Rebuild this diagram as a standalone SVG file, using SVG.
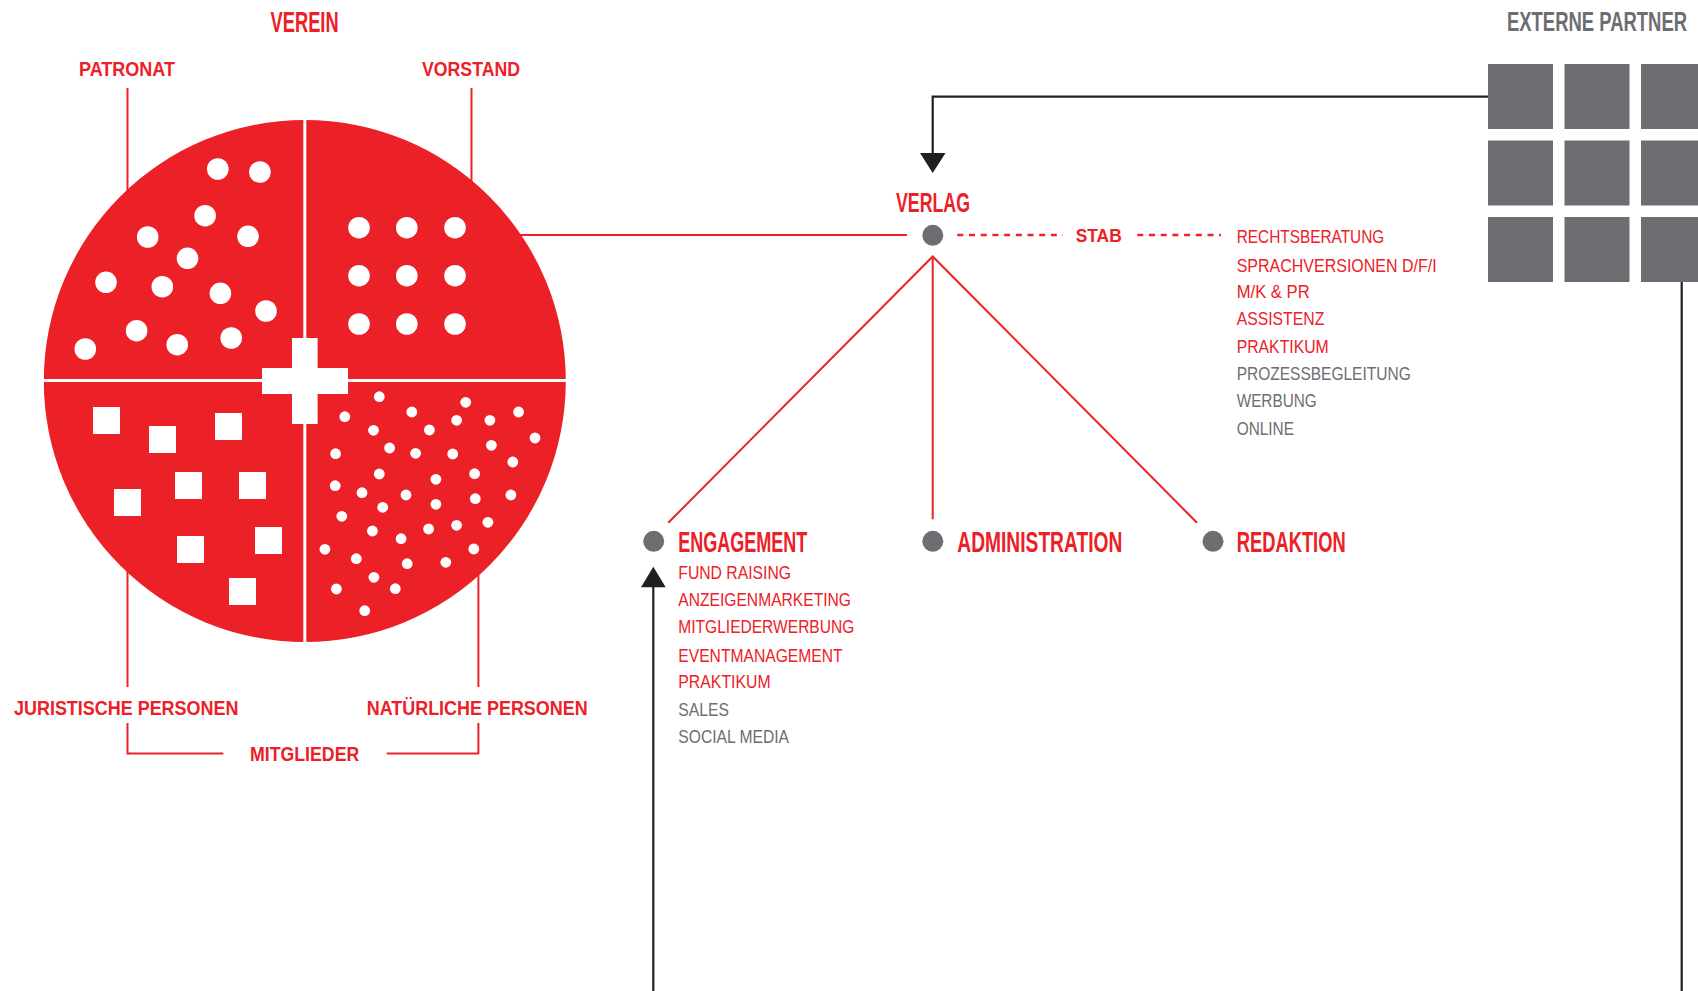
<svg xmlns="http://www.w3.org/2000/svg" width="1698" height="991" viewBox="0 0 1698 991">
<style>
.h{font-family:"Liberation Sans Narrow","Liberation Sans",Arial,sans-serif;font-weight:bold;fill:#ec2027}
.g{fill:#6d6e71}
.it{font-family:"Liberation Sans Narrow","Liberation Sans",Arial,sans-serif;font-size:18px;fill:#ec2027}
.it.gr{fill:#6d6e71}
.rl{stroke:#ec2027;stroke-width:2;fill:none}
.bl{stroke:#231f20;stroke-width:2.2;fill:none}
.dash{stroke:#ec2027;stroke-width:2.5;stroke-dasharray:6 5.7;fill:none}
.sq{fill:#6d6e71}
.dot{fill:#6d6e71}
.w{fill:#ffffff}
</style>
<rect width="1698" height="991" fill="#ffffff"/>

<g id="connectors">
  <line class="rl" x1="127.5" y1="88" x2="127.5" y2="200"/>
  <line class="rl" x1="471.5" y1="88" x2="471.5" y2="200"/>
  <line class="rl" x1="127.5" y1="560" x2="127.5" y2="687"/>
  <line class="rl" x1="478.4" y1="560" x2="478.4" y2="687"/>
  <polyline class="rl" points="127.5,723 127.5,753.5 223.3,753.5"/>
  <polyline class="rl" points="386.7,753.5 478.4,753.5 478.4,723"/>
  <line class="rl" x1="500" y1="235" x2="907" y2="235"/>
  <line class="dash" x1="957.3" y1="235" x2="1063" y2="235"/>
  <line class="dash" x1="1137.3" y1="235" x2="1221" y2="235"/>
  <polyline class="rl" points="668.3,522.7 932.7,256.5 1197,522.7"/>
  <line class="rl" x1="932.7" y1="256.5" x2="932.7" y2="519.3"/>
  <polyline class="bl" points="1488,96.7 932.7,96.7 932.7,156"/>
  <polygon fill="#231f20" points="920,153 945.5,153 932.7,173"/>
  <line class="bl" x1="653.3" y1="991" x2="653.3" y2="586"/>
  <polygon fill="#231f20" points="641,587.3 665.7,587.3 653.3,566.7"/>
  <line class="bl" x1="1681.7" y1="281" x2="1681.7" y2="991"/>
</g>

<g id="verein">
  <text class="h" x="270.6" y="31.7" font-size="29" textLength="68" lengthAdjust="spacingAndGlyphs">VEREIN</text>
  <text class="h" x="79" y="76" font-size="21" textLength="96" lengthAdjust="spacingAndGlyphs">PATRONAT</text>
  <text class="h" x="422" y="76" font-size="21" textLength="98" lengthAdjust="spacingAndGlyphs">VORSTAND</text>
  <text class="h" x="14" y="715" font-size="20" textLength="224.4" lengthAdjust="spacingAndGlyphs">JURISTISCHE PERSONEN</text>
  <text class="h" x="366.7" y="714.6" font-size="20" textLength="221" lengthAdjust="spacingAndGlyphs">NATÜRLICHE PERSONEN</text>
  <text class="h" x="250" y="761" font-size="20" textLength="109.3" lengthAdjust="spacingAndGlyphs">MITGLIEDER</text>
</g>

<g id="circle">
  <circle cx="304.8" cy="381" r="261" fill="#ec2027"/>
  <rect class="w" x="303.3" y="118" width="3" height="526"/>
  <rect class="w" x="42" y="379" width="526" height="3"/>
  <rect class="w" x="292" y="338" width="25.6" height="86"/>
  <rect class="w" x="262" y="368" width="86" height="26"/>
  <g id="patronat-dots" class="w">
    <circle cx="217.8" cy="169" r="10.8"/>
    <circle cx="259.9" cy="172" r="10.8"/>
    <circle cx="205.1" cy="215.7" r="10.8"/>
    <circle cx="147.7" cy="237" r="10.8"/>
    <circle cx="248" cy="236.3" r="10.8"/>
    <circle cx="187.5" cy="258.3" r="10.8"/>
    <circle cx="106" cy="282.3" r="10.8"/>
    <circle cx="162.3" cy="286.7" r="10.8"/>
    <circle cx="220.4" cy="293.3" r="10.8"/>
    <circle cx="266" cy="311" r="10.8"/>
    <circle cx="136.6" cy="330.7" r="10.8"/>
    <circle cx="177.2" cy="344.7" r="10.8"/>
    <circle cx="231.2" cy="338" r="10.8"/>
    <circle cx="85.3" cy="349" r="10.8"/>
  </g>
  <g id="vorstand-dots" class="w">
    <circle cx="359" cy="227.7" r="10.8"/>
    <circle cx="406.8" cy="227.7" r="10.8"/>
    <circle cx="455" cy="227.7" r="10.8"/>
    <circle cx="359" cy="275.7" r="10.8"/>
    <circle cx="406.8" cy="275.7" r="10.8"/>
    <circle cx="455" cy="275.7" r="10.8"/>
    <circle cx="359" cy="324" r="10.8"/>
    <circle cx="406.8" cy="324" r="10.8"/>
    <circle cx="455" cy="324" r="10.8"/>
  </g>
  <g id="juristische-squares" class="w">
    <rect x="93" y="407" width="27" height="27"/>
    <rect x="149" y="426" width="27" height="27"/>
    <rect x="215" y="413" width="27" height="27"/>
    <rect x="175" y="472" width="27" height="27"/>
    <rect x="239" y="472" width="27" height="27"/>
    <rect x="114" y="489" width="27" height="27"/>
    <rect x="255" y="527" width="27" height="27"/>
    <rect x="177" y="536" width="27" height="27"/>
    <rect x="229" y="578" width="27" height="27"/>
  </g>
  <g id="natuerliche-dots" class="w">
    <circle cx="379.3" cy="396.7" r="5.4"/>
    <circle cx="465.7" cy="402.3" r="5.4"/>
    <circle cx="344.8" cy="416.7" r="5.4"/>
    <circle cx="411.8" cy="412" r="5.4"/>
    <circle cx="456.6" cy="420.3" r="5.4"/>
    <circle cx="489.9" cy="420.3" r="5.4"/>
    <circle cx="518.6" cy="412" r="5.4"/>
    <circle cx="373.5" cy="430.3" r="5.4"/>
    <circle cx="429.4" cy="430" r="5.4"/>
    <circle cx="535" cy="438" r="5.4"/>
    <circle cx="389.6" cy="448" r="5.4"/>
    <circle cx="415.6" cy="453.3" r="5.4"/>
    <circle cx="452.7" cy="454" r="5.4"/>
    <circle cx="491.4" cy="445.3" r="5.4"/>
    <circle cx="335.6" cy="453.7" r="5.4"/>
    <circle cx="512.8" cy="462" r="5.4"/>
    <circle cx="379.3" cy="474" r="5.4"/>
    <circle cx="435.9" cy="479.3" r="5.4"/>
    <circle cx="474.6" cy="473.7" r="5.4"/>
    <circle cx="335.2" cy="485.7" r="5.4"/>
    <circle cx="362" cy="492.7" r="5.4"/>
    <circle cx="406" cy="495" r="5.4"/>
    <circle cx="382.7" cy="507.3" r="5.4"/>
    <circle cx="435.9" cy="504.3" r="5.4"/>
    <circle cx="475.3" cy="498.7" r="5.4"/>
    <circle cx="510.9" cy="495" r="5.4"/>
    <circle cx="341.8" cy="516.3" r="5.4"/>
    <circle cx="372.4" cy="531" r="5.4"/>
    <circle cx="401.1" cy="538.7" r="5.4"/>
    <circle cx="428.6" cy="529" r="5.4"/>
    <circle cx="456.6" cy="525.3" r="5.4"/>
    <circle cx="487.9" cy="522.3" r="5.4"/>
    <circle cx="324.9" cy="549.3" r="5.4"/>
    <circle cx="356.3" cy="558.7" r="5.4"/>
    <circle cx="407.2" cy="563.7" r="5.4"/>
    <circle cx="445.8" cy="562.3" r="5.4"/>
    <circle cx="473.8" cy="549" r="5.4"/>
    <circle cx="373.9" cy="577.3" r="5.4"/>
    <circle cx="395.3" cy="588.7" r="5.4"/>
    <circle cx="336.4" cy="589" r="5.4"/>
    <circle cx="364.7" cy="610.7" r="5.4"/>
  </g>
</g>

<g id="externe-partner">
  <text class="h g" x="1507" y="30.7" font-size="27" textLength="180" lengthAdjust="spacingAndGlyphs">EXTERNE PARTNER</text>
  <rect class="sq" x="1488" y="64" width="65" height="65"/>
  <rect class="sq" x="1564.5" y="64" width="65" height="65"/>
  <rect class="sq" x="1641" y="64" width="65" height="65"/>
  <rect class="sq" x="1488" y="140.5" width="65" height="65"/>
  <rect class="sq" x="1564.5" y="140.5" width="65" height="65"/>
  <rect class="sq" x="1641" y="140.5" width="65" height="65"/>
  <rect class="sq" x="1488" y="217" width="65" height="65"/>
  <rect class="sq" x="1564.5" y="217" width="65" height="65"/>
  <rect class="sq" x="1641" y="217" width="65" height="65"/>
</g>

<g id="verlag">
  <text class="h" x="896" y="211.7" font-size="27" textLength="74" lengthAdjust="spacingAndGlyphs">VERLAG</text>
  <circle class="dot" cx="932.8" cy="235.3" r="10.5"/>
</g>

<g id="stab">
  <text class="h" x="1075.7" y="241.7" font-size="18" textLength="46" lengthAdjust="spacingAndGlyphs">STAB</text>
  <text class="it" x="1236.7" y="243.3" textLength="147.6" lengthAdjust="spacingAndGlyphs">RECHTSBERATUNG</text>
  <text class="it" x="1236.7" y="271.7" textLength="200" lengthAdjust="spacingAndGlyphs">SPRACHVERSIONEN D/F/I</text>
  <text class="it" x="1236.7" y="298.3" textLength="73" lengthAdjust="spacingAndGlyphs">M/K &amp; PR</text>
  <text class="it" x="1236.7" y="325" textLength="87.6" lengthAdjust="spacingAndGlyphs">ASSISTENZ</text>
  <text class="it" x="1236.7" y="353.3" textLength="92" lengthAdjust="spacingAndGlyphs">PRAKTIKUM</text>
  <text class="it gr" x="1236.7" y="380" textLength="174" lengthAdjust="spacingAndGlyphs">PROZESSBEGLEITUNG</text>
  <text class="it gr" x="1236.7" y="407.3" textLength="80" lengthAdjust="spacingAndGlyphs">WERBUNG</text>
  <text class="it gr" x="1236.7" y="435" textLength="57.3" lengthAdjust="spacingAndGlyphs">ONLINE</text>
</g>

<g id="engagement">
  <circle class="dot" cx="653.7" cy="541.3" r="10.5"/>
  <text class="h" x="678.3" y="551.7" font-size="29" textLength="129" lengthAdjust="spacingAndGlyphs">ENGAGEMENT</text>
  <text class="it" x="678.3" y="579.3" textLength="112.7" lengthAdjust="spacingAndGlyphs">FUND RAISING</text>
  <text class="it" x="678.3" y="606" textLength="172.7" lengthAdjust="spacingAndGlyphs">ANZEIGENMARKETING</text>
  <text class="it" x="678.3" y="633.3" textLength="176" lengthAdjust="spacingAndGlyphs">MITGLIEDERWERBUNG</text>
  <text class="it" x="678.3" y="661.7" textLength="164.3" lengthAdjust="spacingAndGlyphs">EVENTMANAGEMENT</text>
  <text class="it" x="678.3" y="688.3" textLength="92.3" lengthAdjust="spacingAndGlyphs">PRAKTIKUM</text>
  <text class="it gr" x="678.3" y="715.7" textLength="50.7" lengthAdjust="spacingAndGlyphs">SALES</text>
  <text class="it gr" x="678.3" y="743.3" textLength="110.7" lengthAdjust="spacingAndGlyphs">SOCIAL MEDIA</text>
</g>

<g id="administration">
  <circle class="dot" cx="932.8" cy="541.3" r="10.5"/>
  <text class="h" x="957.3" y="551.7" font-size="29" textLength="165" lengthAdjust="spacingAndGlyphs">ADMINISTRATION</text>
</g>

<g id="redaktion">
  <circle class="dot" cx="1213" cy="541.3" r="10.5"/>
  <text class="h" x="1236.7" y="551.7" font-size="29" textLength="109" lengthAdjust="spacingAndGlyphs">REDAKTION</text>
</g>
</svg>
